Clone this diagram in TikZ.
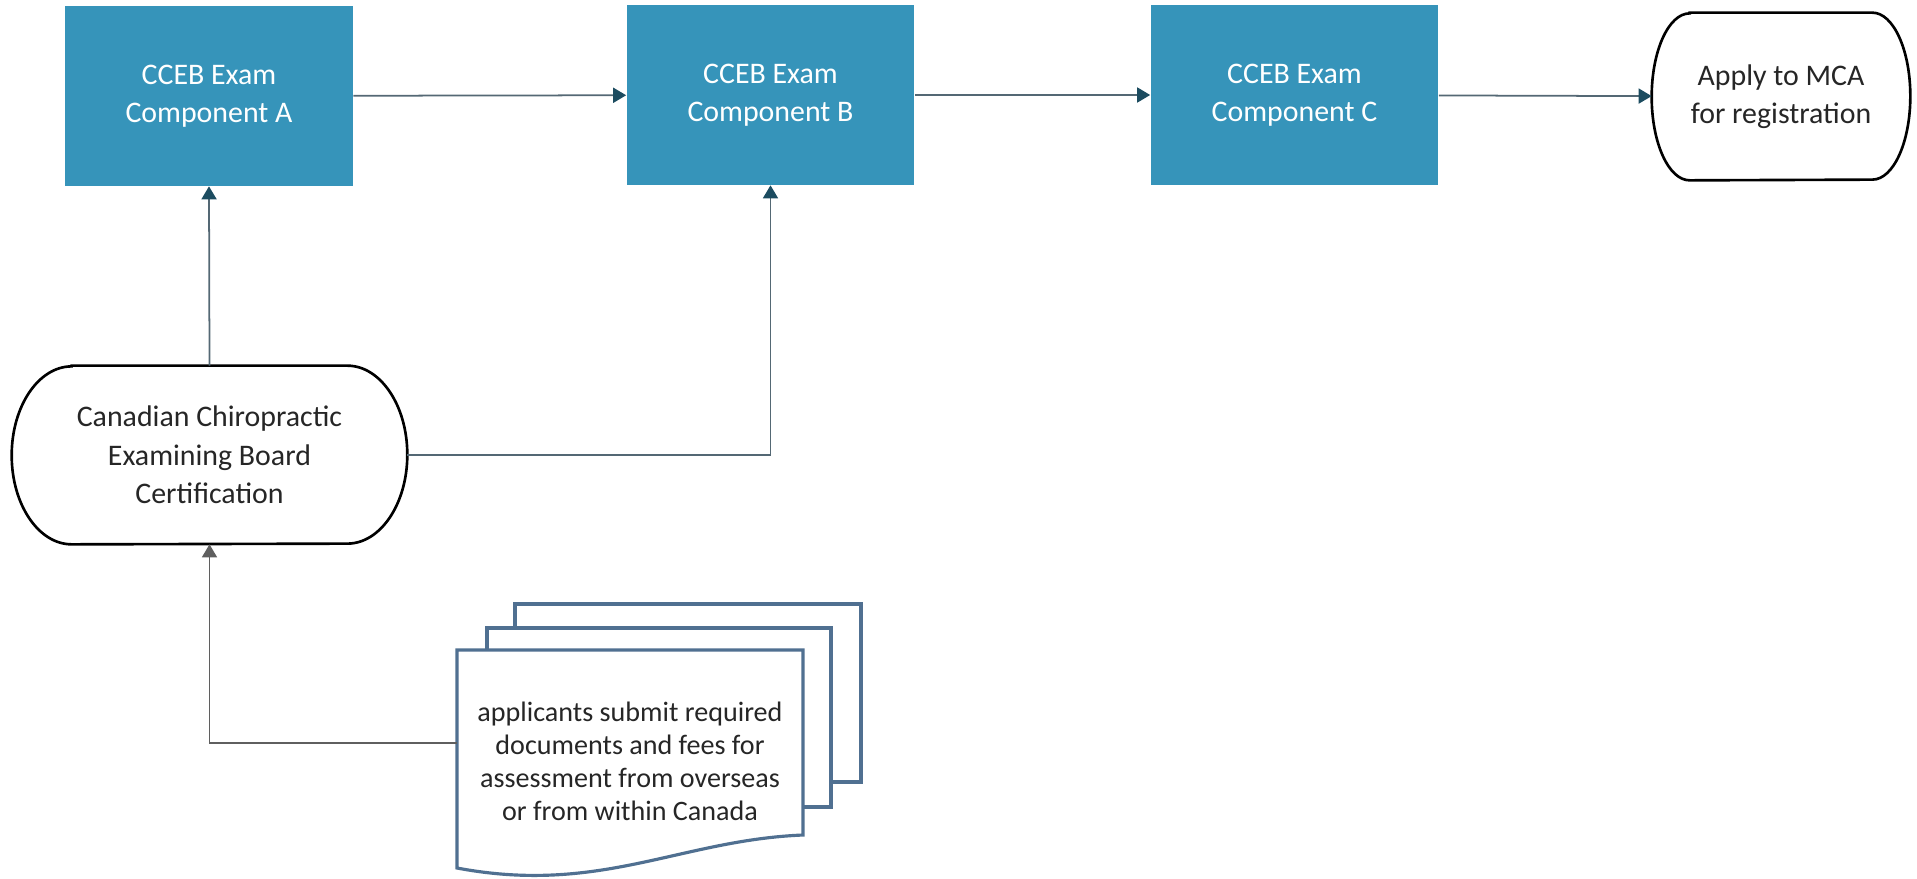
\documentclass[tikz,border=0pt]{standalone}
\usepackage{fontspec}
\setmainfont{Carlito}
\usepackage{tikz}
\usetikzlibrary{arrows.meta}

\definecolor{boxblue}{RGB}{54,148,186}
\definecolor{tipteal}{RGB}{28,76,96}
\definecolor{linegray}{RGB}{84,104,116}
\definecolor{docblue}{RGB}{80,112,145}
\definecolor{tipgray}{RGB}{95,95,95}

\tikzset{
	exambox/.style={fill=boxblue, text=white, minimum width=5.76cm, minimum height=3.6cm,
		align=center, font=\fontsize{17}{21.9}\selectfont},
	endbox/.style={align=center, text=black!85, font=\fontsize{17}{21.9}\selectfont},
	endline/.style={draw=black, line width=1.5pt},
	docline/.style={draw=docblue, line width=1.8pt, fill=white},
	flow/.style={draw=linegray, line width=1pt, -{Triangle[length=0.26cm, width=0.3cm, color=tipteal]}},
	flowgray/.style={draw=tipgray, line width=1pt, -{Triangle[length=0.26cm, width=0.3cm, color=tipgray]}}
}

\begin{document}
\begin{tikzpicture}[x=0.02cm, y=-0.02cm]
	\useasboundingbox (0,0) rectangle (1917,879);

	% exam components
	\node[exambox] (examA) at (209,96) {CCEB Exam\\Component A};
	\node[exambox] (examB) at (770.5,95) {CCEB Exam\\Component B};
	\node[exambox] (examC) at (1294.5,95) {CCEB Exam\\Component C};

	% terminals
	\node[endbox, minimum width=5.16cm, minimum height=3.34cm] (apply) at (1781,96.5) {Apply to MCA\\for registration};
	\draw[endline] ([xshift=0.76cm]apply.north west) -- ([xshift=-0.76cm]apply.north east)
		arc[start angle=90, end angle=-90, x radius=0.76cm, y radius=1.67cm]
		-- ([xshift=0.76cm]apply.south west)
		arc[start angle=270, end angle=90, x radius=0.76cm, y radius=1.67cm] -- cycle;

	\node[endbox, minimum width=7.9cm, minimum height=3.56cm] (ccebcert) at (209.5,455) {Canadian Chiropractic\\Examining Board\\Certification};
	\draw[endline] ([xshift=1.2cm]ccebcert.north west) -- ([xshift=-1.2cm]ccebcert.north east)
		arc[start angle=90, end angle=-90, x radius=1.2cm, y radius=1.78cm]
		-- ([xshift=1.2cm]ccebcert.south west)
		arc[start angle=270, end angle=90, x radius=1.2cm, y radius=1.78cm] -- cycle;

	% documents
	\draw[docline] (515,604) rectangle (861,782);
	\draw[docline] (487,628) rectangle (831,807);
	\draw[docline] (457,650) -- (803,650) -- (803,835)
		.. controls (680,840) and (600,895) .. (457,868) -- cycle;
	\node[align=center, text=black!85, minimum width=6.92cm, font=\fontsize{16}{18.8}\selectfont] (docs) at (630,761)
		{applicants submit required\\documents and fees for\\assessment from overseas\\or from within Canada};

	% connectors
	\draw[flow] (examA) -- (examB);
	\draw[flow] (examB) -- (examC);
	\draw[flow] (examC) -- (apply);
	\draw[flow] (ccebcert.north) -- (examA.south);
	\draw[flow] (ccebcert.east) -| (examB.south);
	\draw[flowgray] ([yshift=0.36cm]docs.west) -| (ccebcert.south);
\end{tikzpicture}
\end{document}
